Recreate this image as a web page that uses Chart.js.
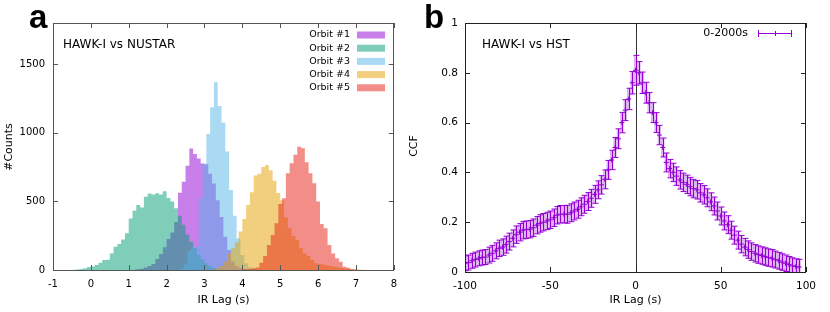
<!DOCTYPE html>
<html><head><meta charset="utf-8">
<script src="https://cdn.jsdelivr.net/npm/chart.js@4/dist/chart.umd.min.js"></script>
<style>
html,body{margin:0;padding:0;background:#fff;overflow:hidden;}
#ca{position:absolute;left:0;top:0;}
#cb{position:absolute;left:405px;top:0;}
</style></head><body>
<canvas id="ca" width="405" height="312"></canvas>
<canvas id="cb" width="425" height="312"></canvas>
<script>
// ---------- Panel a: histogram data (bin centres, counts) ----------
const orbitNames = ['Orbit #1','Orbit #2','Orbit #3','Orbit #4','Orbit #5'];
const orbit1Lag = [1.15,1.25,1.35,1.45,1.55,1.65,1.75,1.85,1.95,2.05,2.15,2.25,2.35,2.45,2.55,2.65,2.75,2.85,2.95,3.05,3.15,3.25,3.35,3.45,3.55,3.65,3.75,3.85,3.95,4.05,4.15];
const orbit1Counts = [3,6,10,19,29,44,80,116,165,226,274,350,563,643,760,886,845,813,777,770,702,630,508,386,242,146,62,30,14,6,2];
const orbit2Lag = [-0.45,-0.35,-0.25,-0.15,-0.05,0.05,0.15,0.25,0.35,0.45,0.55,0.65,0.75,0.85,0.95,1.05,1.15,1.25,1.35,1.45,1.55,1.65,1.75,1.85,1.95,2.05,2.15,2.25,2.35,2.45,2.55,2.65,2.75,2.85,2.95,3.05,3.15,3.25,3.35,3.45];
const orbit2Counts = [2,4,7,12,22,25,36,53,73,75,121,170,189,223,267,376,432,473,456,534,558,550,560,550,573,525,500,450,395,330,258,206,160,112,80,50,28,14,7,3];
const orbit3Lag = [2.3,2.4,2.5,2.6,2.7,2.8,2.9,3.0,3.1,3.2,3.3,3.4,3.5,3.6,3.7,3.8,3.9,4.0,4.1,4.2,4.3,4.4];
const orbit3Counts = [4,10,40,140,165,175,523,775,992,1186,1369,1196,1075,863,583,396,230,110,50,22,10,4];
const orbit4Lag = [3.25,3.35,3.45,3.55,3.65,3.75,3.85,3.95,4.05,4.15,4.25,4.35,4.45,4.55,4.65,4.75,4.85,4.95,5.05,5.15,5.25,5.35,5.45,5.55,5.65,5.75,5.85,5.95,6.05,6.15,6.25,6.35,6.45,6.55,6.65,6.75,6.85,6.95,7.05,7.15,7.25];
const orbit4Counts = [5,12,30,60,121,158,200,280,371,473,566,688,702,750,766,727,650,562,508,384,304,248,219,158,121,102,73,50,44,38,33,28,24,19,14,9,6,4,3,2,1];
const orbit5Lag = [4.0,4.1,4.2,4.3,4.4,4.5,4.6,4.7,4.8,4.9,5.0,5.1,5.2,5.3,5.4,5.5,5.6,5.7,5.8,5.9,6.0,6.1,6.2,6.3,6.4,6.5,6.6,6.7,6.8,6.9,7.0];
const orbit5Counts = [3,5,8,12,19,53,102,182,255,340,481,523,705,778,839,899,887,785,705,632,499,335,304,182,121,85,61,24,17,7,3];
const histXTicks = [-1,0,1,2,3,4,5,6,7,8];
const histYTicks = [0,500,1000,1500];

// ---------- Panel b: CCF data ----------
const ccfLag = [-100,-98,-96,-94,-92,-90,-88,-86,-84,-82,-80,-78,-76,-74,-72,-70,-68,-66,-64,-62,-60,-58,-56,-54,-52,-50,-48,-46,-44,-42,-40,-38,-36,-34,-32,-30,-28,-26,-24,-22,-20,-18,-16,-14,-12,-10,-8,-6,-4,-2,0,2,4,6,8,10,12,14,16,18,20,22,24,26,28,30,32,34,36,38,40,42,44,46,48,50,52,54,56,58,60,62,64,66,68,70,72,74,76,78,80,82,84,86,88,90,92,94,96];
const ccfValue = [0.035,0.038,0.045,0.05,0.055,0.058,0.06,0.068,0.075,0.085,0.095,0.1,0.11,0.122,0.135,0.15,0.16,0.168,0.17,0.172,0.178,0.188,0.195,0.2,0.205,0.21,0.218,0.228,0.232,0.232,0.232,0.238,0.245,0.252,0.262,0.272,0.283,0.296,0.312,0.33,0.35,0.372,0.41,0.45,0.5,0.535,0.6,0.65,0.695,0.76,0.81,0.8,0.76,0.72,0.68,0.64,0.6,0.55,0.5,0.44,0.415,0.4,0.385,0.37,0.36,0.352,0.343,0.335,0.33,0.318,0.31,0.298,0.282,0.265,0.245,0.225,0.205,0.19,0.168,0.148,0.128,0.112,0.1,0.09,0.082,0.075,0.07,0.066,0.062,0.058,0.055,0.05,0.045,0.04,0.035,0.03,0.025,0.022,0.02];
const ccfError = [0.03,0.03,0.03,0.03,0.03,0.03,0.03,0.032,0.032,0.032,0.033,0.033,0.034,0.034,0.034,0.035,0.035,0.035,0.035,0.035,0.035,0.035,0.035,0.035,0.035,0.035,0.035,0.035,0.035,0.035,0.036,0.036,0.036,0.036,0.036,0.036,0.036,0.036,0.036,0.036,0.037,0.038,0.038,0.039,0.04,0.04,0.041,0.042,0.043,0.045,0.06,0.045,0.043,0.042,0.041,0.04,0.04,0.039,0.038,0.038,0.037,0.037,0.037,0.037,0.037,0.037,0.037,0.037,0.037,0.037,0.037,0.036,0.036,0.036,0.036,0.036,0.036,0.036,0.036,0.036,0.036,0.035,0.035,0.035,0.035,0.035,0.035,0.035,0.035,0.035,0.035,0.034,0.034,0.033,0.033,0.032,0.032,0.031,0.031];
const ccfSeriesName = '0-2000s';
const ccfXTicks = [-100,-50,0,50,100];
const ccfYTicks = [0,0.2,0.4,0.6,0.8,1];

// ---------- styles ----------
const FONT = "'DejaVu Sans'";
const orbitFill = ['rgba(148,0,211,0.5)','rgba(0,158,115,0.5)','rgba(86,180,233,0.5)','rgba(230,159,0,0.5)','rgba(229,30,16,0.5)'];
const PURPLE = '#9400d3';
Chart.defaults.font.family = FONT;
Chart.defaults.color = '#000';

function toXY(xs, ys){ return xs.map((x,i)=>({x:x, y:ys[i]})); }
const plainLabel = v => String(v);

function boxAndTicks(chart, color, xt, yt){
  const {ctx, chartArea:a, scales:{x,y}} = chart;
  ctx.save();
  ctx.strokeStyle = color; ctx.lineWidth = 1;
  ctx.beginPath();
  xt.forEach(v=>{ const p = Math.round(x.getPixelForValue(v))+0.5;
    ctx.moveTo(p, a.bottom); ctx.lineTo(p, a.bottom-5);
    ctx.moveTo(p, a.top); ctx.lineTo(p, a.top+5); });
  yt.forEach(v=>{ const p = Math.round(y.getPixelForValue(v))+0.5;
    ctx.moveTo(a.left, p); ctx.lineTo(a.left+5, p);
    ctx.moveTo(a.right, p); ctx.lineTo(a.right-5, p); });
  ctx.stroke();
  ctx.strokeRect(Math.round(a.left)+0.5, Math.round(a.top)+0.5, Math.round(a.right-a.left)-1, Math.round(a.bottom-a.top));
  ctx.restore();
}

// ---------- Panel a chart ----------
const lagsA = [orbit1Lag,orbit2Lag,orbit3Lag,orbit4Lag,orbit5Lag];
const countsA = [orbit1Counts,orbit2Counts,orbit3Counts,orbit4Counts,orbit5Counts];
const pluginA = {
  id:'pa',
  afterDatasetsDraw(chart){
    boxAndTicks(chart, '#555', histXTicks, histYTicks);
    const ctx = chart.ctx;
    ctx.save();
    ctx.fillStyle = '#000';
    ctx.font = "bold 33px 'Liberation Sans'"; ctx.textAlign='left'; ctx.textBaseline='alphabetic';
    ctx.fillText('a', 29, 28);
    ctx.font = "12px "+FONT; ctx.textBaseline='middle';
    ctx.fillText('HAWK-I vs NUSTAR', 63, 45);
    ctx.font = "9.5px "+FONT; ctx.textAlign='right';
    orbitNames.forEach((n,i)=>{
      const yy = 35 + i*13.2;
      ctx.fillStyle = '#000'; ctx.fillText(n, 350, yy);
      ctx.fillStyle = orbitFill[i]; ctx.fillRect(357, yy-3.5, 28, 7);
    });
    ctx.fillStyle = '#000';
    ctx.font = "11px "+FONT; ctx.textAlign='center';
    ctx.fillText('IR Lag (s)', (chart.chartArea.left+chart.chartArea.right)/2, 300);
    ctx.translate(9, 147); ctx.rotate(-Math.PI/2);
    ctx.fillText('#Counts', 0, 0);
    ctx.restore();
  }
};
new Chart(document.getElementById('ca'), {
  type:'line',
  data:{ datasets: orbitNames.map((n,i)=>({
    label:n, data: toXY(lagsA[i], countsA[i]),
    stepped:'middle', fill:'origin',
    backgroundColor: orbitFill[i], borderColor:'rgba(0,0,0,0)', borderWidth:0,
    pointRadius:0, order: 5-i
  }))},
  options:{
    responsive:false, animation:false, devicePixelRatio:1,
    layout:{padding:{left:0,right:8,top:23,bottom:0}},
    plugins:{legend:{display:false}, tooltip:{enabled:false}},
    scales:{
      x:{type:'linear', min:-1, max:8, offset:false,
         grid:{display:false, drawTicks:false}, border:{display:false},
         ticks:{padding:8, font:{size:10}, maxRotation:0, autoSkip:false, callback: plainLabel},
         afterBuildTicks(s){ s.ticks = histXTicks.map(v=>({value:v})); },
         afterFit(s){ s.height = 42; }},
      y:{type:'linear', min:0, max:1800,
         grid:{display:false, drawTicks:false}, border:{display:false},
         ticks:{padding:8, font:{size:10}, callback: plainLabel},
         afterBuildTicks(s){ s.ticks = histYTicks.map(v=>({value:v})); },
         afterFit(s){ s.width = 53; }}
    }
  },
  plugins:[pluginA]
});

// ---------- Panel b chart ----------
const pluginB = {
  id:'pb',
  beforeDatasetsDraw(chart){
    const {ctx, chartArea:a, scales:{x,y}} = chart;
    ctx.save();
    ctx.beginPath(); ctx.rect(a.left, a.top, a.right-a.left, a.bottom-a.top); ctx.clip();
    const zx = Math.round(x.getPixelForValue(0))+0.5;
    ctx.strokeStyle = '#333'; ctx.lineWidth = 1;
    ctx.beginPath(); ctx.moveTo(zx, a.top); ctx.lineTo(zx, a.bottom); ctx.stroke();
    ccfLag.forEach((l,i)=>{
      const px = x.getPixelForValue(l);
      const y1 = y.getPixelForValue(ccfValue[i]-ccfError[i]);
      const y2 = y.getPixelForValue(ccfValue[i]+ccfError[i]);
      ctx.fillStyle = 'rgba(148,0,211,0.3)';
      ctx.fillRect(px-1.7, y2, 3.4, y1-y2);
    });
    ctx.strokeStyle = PURPLE; ctx.lineWidth = 1;
    ctx.beginPath();
    ccfLag.forEach((l,i)=>{
      const px = Math.round(x.getPixelForValue(l))+0.5;
      const y1 = y.getPixelForValue(ccfValue[i]-ccfError[i]);
      const y2 = y.getPixelForValue(ccfValue[i]+ccfError[i]);
      ctx.moveTo(px, y1); ctx.lineTo(px, y2);
      ctx.moveTo(px-3, y1); ctx.lineTo(px+3, y1);
      ctx.moveTo(px-3, y2); ctx.lineTo(px+3, y2);
    });
    ctx.stroke();
    ctx.restore();
  },
  afterDatasetsDraw(chart){
    boxAndTicks(chart, '#222', ccfXTicks, ccfYTicks);
    const ctx = chart.ctx, a = chart.chartArea;
    ctx.save();
    ctx.fillStyle = '#000';
    ctx.font = "bold 33px 'Liberation Sans'"; ctx.textAlign='left'; ctx.textBaseline='alphabetic';
    ctx.fillText('b', 19, 28);
    ctx.font = "12px "+FONT; ctx.textBaseline='middle';
    ctx.fillText('HAWK-I vs HST', 77, 45);
    ctx.font = "11px "+FONT; ctx.textAlign='right';
    ctx.fillText(ccfSeriesName, 343, 33);
    ctx.strokeStyle = PURPLE; ctx.lineWidth = 1;
    ctx.beginPath();
    ctx.moveTo(353, 33.5); ctx.lineTo(387, 33.5);
    ctx.moveTo(353.5, 30); ctx.lineTo(353.5, 37);
    ctx.moveTo(386.5, 30); ctx.lineTo(386.5, 37);
    ctx.moveTo(370.5, 31); ctx.lineTo(370.5, 36);
    ctx.stroke();
    ctx.textAlign='center';
    ctx.fillText('IR Lag (s)', (a.left+a.right)/2, 300);
    ctx.translate(9, 146); ctx.rotate(-Math.PI/2);
    ctx.fillText('CCF', 0, 0);
    ctx.restore();
  }
};
new Chart(document.getElementById('cb'), {
  type:'line',
  data:{ datasets:[{
    label: ccfSeriesName, data: toXY(ccfLag, ccfValue), showLine:false,
    pointStyle:'cross', pointRadius:2.5, pointBorderWidth:1,
    pointBorderColor: PURPLE, pointBackgroundColor: PURPLE
  }]},
  options:{
    responsive:false, animation:false, devicePixelRatio:1,
    layout:{padding:{left:0,right:24,top:23,bottom:0}},
    plugins:{legend:{display:false}, tooltip:{enabled:false}},
    scales:{
      x:{type:'linear', min:-100, max:100,
         grid:{display:false, drawTicks:false}, border:{display:false},
         ticks:{padding:8, font:{size:10.5}, maxRotation:0, autoSkip:false, callback: plainLabel},
         afterBuildTicks(s){ s.ticks = ccfXTicks.map(v=>({value:v})); },
         afterFit(s){ s.height = 40; }},
      y:{type:'linear', min:0, max:1,
         grid:{display:false, drawTicks:false}, border:{display:false},
         ticks:{padding:7, font:{size:10.5}, callback: plainLabel},
         afterBuildTicks(s){ s.ticks = ccfYTicks.map(v=>({value:v})); },
         afterFit(s){ s.width = 60; }}
    }
  },
  plugins:[pluginB]
});
</script>
</body></html>
